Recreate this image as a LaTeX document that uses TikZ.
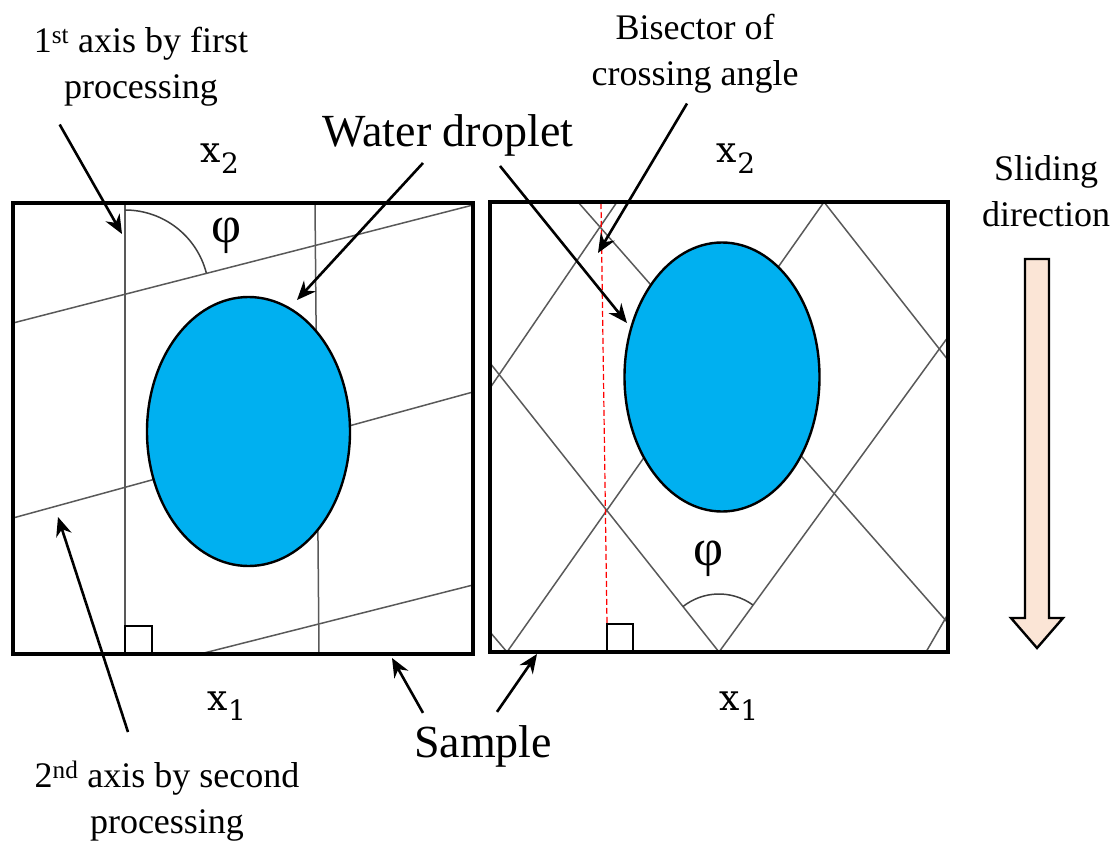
\documentclass[tikz,border=0pt]{standalone}
\usepackage{fontspec}
\setmainfont{Liberation Serif}
\newfontfamily\axfont{DejaVu Serif}
\usepackage{xcolor}
\usetikzlibrary{arrows.meta, calc, positioning}
\definecolor{dropblue}{RGB}{0,176,240}
\definecolor{slidefill}{RGB}{251,229,214}

\newcommand{\axlab}[1]{x\raisebox{-10pt}{\fontsize{28}{28}\selectfont #1}}

\begin{document}
\begin{tikzpicture}[
        x=1pt, y=-1pt,
        >=Stealth,
        sample/.style={draw=black, line width=3.2pt},
        groove/.style={draw=black!65, line width=1.5pt},
        droplet/.style={draw=black, line width=2.4pt, fill=dropblue},
        pointer/.style={-{Stealth[length=19pt, width=16pt]}, line width=2.6pt},
        note/.style={align=center, inner sep=0pt, font=\fontsize{36}{46}\selectfont},
        bignote/.style={inner sep=0pt, anchor=base, font=\fontsize{46}{50}\selectfont},
        axlabel/.style={inner sep=0pt, anchor=base, font=\axfont\fontsize{36}{36}\selectfont},
        anglelabel/.style={inner sep=0pt, font=\fontsize{52}{52}\selectfont},
        squaremark/.style={draw=black, line width=2.8pt},
        anglearc/.style={draw=black!75, line width=1.5pt},
        bisector/.style={draw=red, line width=1.2pt, dash pattern=on 6pt off 3pt},
        slidearrow/.style={draw=black, line width=2.4pt, fill=slidefill}
    ]

    \useasboundingbox (0,0) rectangle (1115,845);

    % left sample, two processings
    \begin{scope}
        \draw[groove] (125,203) -- (125,654);
        \draw[groove] (315,203) -- (319,654);
        \draw[groove] (13,323) -- (473,205);
        \draw[groove] (13,518) -- (473,392);
        \draw[groove] (200,654) -- (473,585);

        \draw[droplet] (248.5,431.5) ellipse [x radius=101.5, y radius=134.5];
        \draw[sample] (13,203) rectangle (473,654);
        \draw[squaremark] (125,626) rectangle (152,654);

        \coordinate (leftvertex) at (125,294);
        \draw[anglearc] ($(leftvertex)+(-14.3:84)$) arc[start angle=-14.3, end angle=-90, radius=84];
        \node[anglelabel] (phileft) at (227,236) {φ};

        \node[axlabel] (xtwoleft) at (220,163) {\axlab{2}};
        \node[axlabel] (xoneleft) at (227,710) {\axlab{1}};
    \end{scope}

    % right sample, crossing grooves
    \begin{scope}
        \draw[groove] (490,388) -- (617,202);
        \draw[groove] (507,652) -- (824,202);
        \draw[groove] (719,652) -- (948,337);
        \draw[groove] (926,652) -- (948,614);
        \draw[groove] (490,632) -- (507,652);
        \draw[groove] (490,363) -- (719,652);
        \draw[groove] (578,202) -- (948,623);
        \draw[groove] (824,202) -- (948,360);

        \draw[droplet] (722,377) ellipse [x radius=97.5, y radius=134.5];
        \draw[bisector] (601,203) -- (607,624);
        \draw[sample] (490,202) rectangle (948,652);
        \draw[squaremark] (607,624) rectangle (633,652);

        \coordinate (rightvertex) at (719,652);
        \draw[anglearc] ($(rightvertex)+(-54:58)$) arc[start angle=-54, end angle=-128.4, radius=58];
        \node[anglelabel] (phiright) at (708,559) {φ};

        \node[axlabel] (xtworight) at (736,163) {\axlab{2}};
        \node[axlabel] (xoneright) at (739,710) {\axlab{1}};
    \end{scope}

    % sliding direction
    \node[note, anchor=north] (lblslide) at (1046,155) {Sliding\\direction};
    \draw[slidearrow] (1025,259) -- (1049,259) -- (1049,618) -- (1063,618)
        -- (1037,648) -- (1011,618) -- (1025,618) -- cycle;

    % labels and pointers
    \node[note, anchor=north] (lblfirst) at (141,27) {1\textsuperscript{st} axis by first\\processing};
    \node[note, anchor=north] (lblsecond) at (167,761) {2\textsuperscript{nd} axis by second\\processing};
    \node[note, anchor=north] (lblbisector) at (695,14) {Bisector of\\crossing angle};
    \node[bignote] (lbldrop) at (448,147) {Water droplet};
    \node[bignote] (lblsample) at (483,757) {Sample};

    \coordinate (firstaxis) at (122,234);
    \coordinate (secondaxis) at (58,517);
    \coordinate (bisectline) at (598,253);
    \coordinate (dropleft) at (297,300);
    \coordinate (dropright) at (627,323);
    \coordinate (sampleleft) at (392,658);
    \coordinate (sampleright) at (537,654);

    \draw[pointer] ($(lblfirst.south west)+(26,18)$) -- (firstaxis);
    \draw[pointer] ($(lblsecond.north)+(-39,-29)$) -- (secondaxis);
    \draw[pointer] ($(lblbisector.south)+(-8,10)$) -- (bisectline);
    \draw[pointer] ($(lbldrop.south)+(-25,6)$) -- (dropleft);
    \draw[pointer] ($(lbldrop.south)+(52,9)$) -- (dropright);
    \draw[pointer] ($(lblsample.north)+(-60,-12)$) -- (sampleleft);
    \draw[pointer] ($(lblsample.north)+(14,-13)$) -- (sampleright);

\end{tikzpicture}
\end{document}
